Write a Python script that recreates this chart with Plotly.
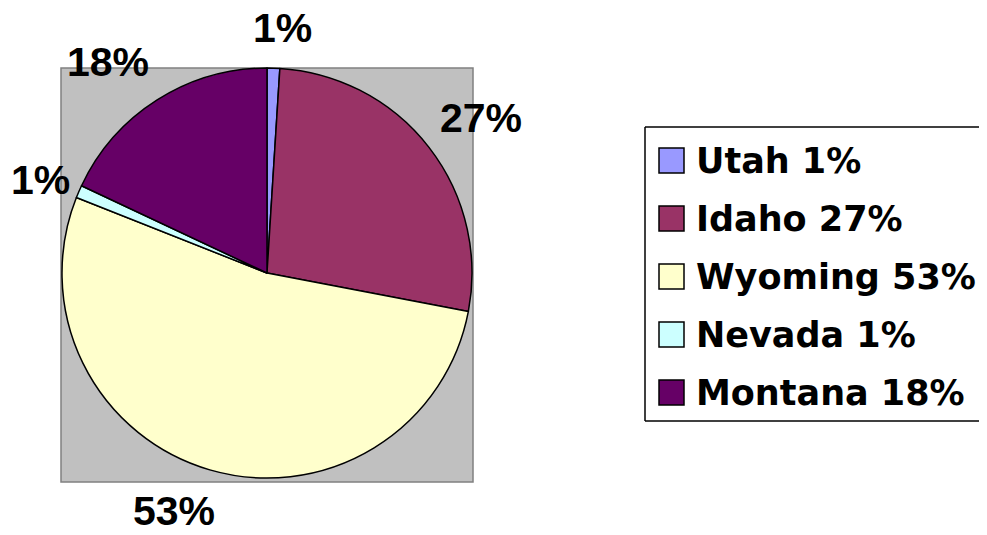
import plotly.graph_objects as go

# ---- data ----
states = ["Utah", "Idaho", "Wyoming", "Nevada", "Montana"]
values = [1, 27, 53, 1, 18]
colors = ["#9999FF", "#993366", "#FFFFCC", "#CCFFFF", "#660066"]

# the page body adds an 8px margin, so the figure is drawn from (8, 8);
# keep the page within the window so no scrollbar appears
OFF = 8
W, H = 987 - OFF, 535 - 2 * OFF

def px(x):
    return (x - OFF) / W

def py(y):
    return 1 - (y - OFF) / H

# screen-pixel centres for the outside percentage labels (layout only)
label_xy = [(282, 28), (481, 118), (174, 511), (40, 180), (108, 62)]

FONT = "Liberation Sans, Arial, sans-serif"
LEG_FONT = "DejaVu Sans, Liberation Sans, sans-serif"

total = sum(values)
pcts = [round(v / total * 100) for v in values]

fig = go.Figure()
fig.add_trace(go.Pie(
    labels=states,
    values=values,
    sort=False,
    direction="clockwise",
    rotation=0,
    marker=dict(colors=colors, line=dict(color="black", width=1.5)),
    textinfo="none",
    hoverinfo="label+percent",
    showlegend=False,
    domain=dict(x=[px(62), px(472)], y=[py(478), py(68)]),
))

line_k = dict(color="black", width=1.5)
shapes = [
    # grey plot-area square
    dict(type="rect", xref="paper", yref="paper", layer="below",
         x0=px(61), x1=px(473), y0=py(482), y1=py(68),
         fillcolor="#C0C0C0", line=dict(color="#808080", width=1.5)),
    # legend frame: open on the right, it runs off the page edge
    dict(type="line", xref="paper", yref="paper",
         x0=px(645), x1=1.0, y0=py(127), y1=py(127), line=line_k),
    dict(type="line", xref="paper", yref="paper",
         x0=px(645), x1=1.0, y0=py(421), y1=py(421), line=line_k),
    dict(type="line", xref="paper", yref="paper",
         x0=px(645), x1=px(645), y0=py(127), y1=py(421), line=line_k),
]

annotations = []
for (lx, ly), p in zip(label_xy, pcts):
    annotations.append(dict(
        x=px(lx), y=py(ly), xref="paper", yref="paper",
        text=f"{p}%", showarrow=False, xanchor="center", yanchor="middle",
        font=dict(family=FONT, size=41, color="black", weight="bold"),
    ))

# custom legend (large swatches as in the original)
leg_top, leg_step, sw = 160.5, 58, 25
for i, (name, c, p) in enumerate(zip(states, colors, pcts)):
    cy = leg_top + i * leg_step
    shapes.append(dict(type="rect", xref="paper", yref="paper",
                       x0=px(659), x1=px(684), y0=py(cy + sw / 2), y1=py(cy - sw / 2),
                       fillcolor=c, line=dict(color="black", width=1.5)))
    annotations.append(dict(
        x=px(694), y=py(cy), xref="paper", yref="paper",
        text=f"{name} {p}%", showarrow=False, xanchor="left", yanchor="middle",
        font=dict(family=LEG_FONT, size=35, color="black", weight="bold"),
    ))

fig.update_layout(
    width=W, height=H,
    margin=dict(l=0, r=0, t=0, b=0),
    paper_bgcolor="white",
    plot_bgcolor="white",
    shapes=shapes,
    annotations=annotations,
    showlegend=False,
)

fig.write_html("out.html")
